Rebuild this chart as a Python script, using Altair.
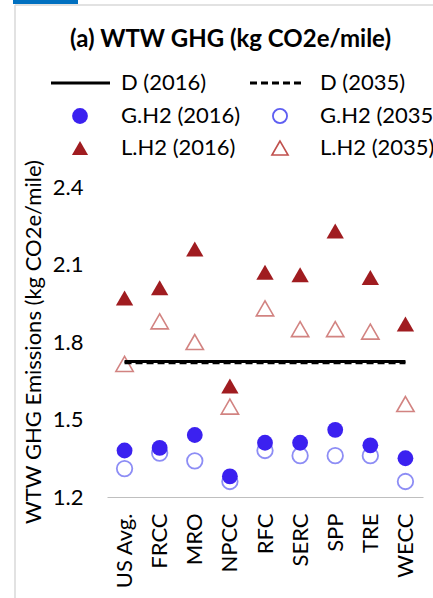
import altair as alt
import pandas as pd

regions = ["US Avg.", "FRCC", "MRO", "NPCC", "RFC", "SERC", "SPP", "TRE", "WECC"]
gh2_2016 = [1.38, 1.39, 1.44, 1.28, 1.41, 1.41, 1.46, 1.40, 1.35]
gh2_2035 = [1.31, 1.37, 1.34, 1.26, 1.38, 1.36, 1.36, 1.36, 1.26]
lh2_2016 = [1.97, 2.01, 2.16, 1.63, 2.07, 2.06, 2.23, 2.05, 1.87]
lh2_2035 = [1.715, 1.88, 1.80, 1.55, 1.93, 1.85, 1.85, 1.84, 1.56]
d_2016 = 1.725
d_2035 = 1.72
y_ticks = [1.2, 1.5, 1.8, 2.1, 2.4]

title_text = "(a) WTW GHG (kg CO2e/mile)"
y_title = "WTW GHG Emissions (kg CO2e/mile)"
legend_labels = ["D (2016)", "D (2035)", "G.H2 (2016)", "G.H2 (2035)", "L.H2 (2016)", "L.H2 (2035)"]

FONT = "Lato"
BLUE_F = "#3B21F0"
BLUE_O = "#5E5EF2"
RED_F = "#A01C20"
RED_O = "#C0504D"

df = pd.DataFrame({
    "region": regions,
    "g16": gh2_2016, "g35": gh2_2035,
    "l16": lh2_2016, "l35": lh2_2035,
})
dline = pd.DataFrame({
    "region": [regions[0], regions[-1]],
    "d16": [d_2016, d_2016],
    "d35": [d_2035, d_2035],
})

xenc = alt.X("region:N", sort=regions,
             scale=alt.Scale(paddingInner=0, paddingOuter=0),
             axis=alt.Axis(title=None, labelAngle=270, labelPadding=16, ticks=False,
                           domainColor="#BFBFBF", domainWidth=1, labelFont=FONT,
                           labelFontSize=22, labelColor="#000000"))
yscale = alt.Scale(domain=[1.2, 2.4], nice=False, zero=False)
yaxis = alt.Axis(title=None, values=y_ticks, format=".1f", domain=False, ticks=False,
                 grid=False, labelPadding=24, labelFont=FONT, labelFontSize=22,
                 labelColor="#000000")

base = alt.Chart(df)

g35 = base.mark_point(shape="circle", filled=False, size=240, strokeWidth=1.8, color=BLUE_O).encode(
    x=xenc, y=alt.Y("g35:Q", scale=yscale, axis=yaxis))
g16 = base.mark_point(shape="circle", filled=True, size=250, opacity=1, color=BLUE_F).encode(
    x=xenc, y=alt.Y("g16:Q", scale=yscale, axis=yaxis))
l35 = base.mark_point(shape="triangle-up", filled=False, size=300, strokeWidth=1.6, color=RED_O).encode(
    x=xenc, y=alt.Y("l35:Q", scale=yscale, axis=yaxis))
l16 = base.mark_point(shape="triangle-up", filled=True, size=300, opacity=1, color=RED_F).encode(
    x=xenc, y=alt.Y("l16:Q", scale=yscale, axis=yaxis))

dl16 = alt.Chart(dline).mark_line(color="#000000", strokeWidth=3).encode(
    x=xenc, y=alt.Y("d16:Q", scale=yscale, axis=yaxis))
dl35 = alt.Chart(dline).mark_line(color="#000000", strokeWidth=3, strokeDash=[7, 4]).encode(
    x=xenc, y=alt.Y("d35:Q", scale=yscale, axis=yaxis))

one = pd.DataFrame({"k": [0]})


def txt(label, x, y, size=22, weight="normal", align="left", angle=0):
    kw = dict(text=label, font=FONT, fontSize=size, fontWeight=weight, align=align,
              baseline="middle", color="#000000")
    if angle:
        kw["angle"] = angle
    return alt.Chart(one).mark_text(**kw).encode(x=alt.value(x), y=alt.value(y))


def legline(x1, x2, y, dash=None):
    kw = dict(color="#000000", strokeWidth=3)
    if dash:
        kw["strokeDash"] = dash
    return alt.Chart(one).mark_rule(**kw).encode(x=alt.value(x1), x2=alt.value(x2), y=alt.value(y))


def legpt(x, y, shape, filled, color, size, sw=2):
    return alt.Chart(one).mark_point(shape=shape, filled=filled, color=color, size=size,
                                     opacity=1, strokeWidth=sw).encode(
        x=alt.value(x), y=alt.value(y))


rows = [-104, -71, -39]
c1_sym, c1_lab = -27, 14
c2_sym, c2_lab = 173, 213

legend = [
    legline(-56, 3, rows[0]),
    legline(143, 198, rows[0], dash=[7, 4]),
    legpt(c1_sym, rows[1], "circle", True, BLUE_F, 250),
    legpt(c2_sym, rows[1], "circle", False, BLUE_O, 200, sw=1.8),
    legpt(c1_sym, rows[2], "triangle-up", True, RED_F, 260),
    legpt(c2_sym, rows[2], "triangle-up", False, RED_O, 260, sw=1.6),
    txt(legend_labels[0], c1_lab, rows[0]),
    txt(legend_labels[1], c2_lab, rows[0]),
    txt(legend_labels[2], c1_lab, rows[1]),
    txt(legend_labels[3], c2_lab, rows[1]),
    txt(legend_labels[4], c1_lab, rows[2]),
    txt(legend_labels[5], c2_lab, rows[2]),
]

title = txt(title_text, 123.5, -147, size=24, weight="bold", align="center")
ytitle = txt(y_title, -73, 155, size=22, align="center", angle=270)

# screenshot frame decorations
frame_left = alt.Chart(one).mark_rule(color="#D9D9D9", strokeWidth=1.5).encode(
    x=alt.value(-92), y=alt.value(-182), y2=alt.value(420))
frame_top = alt.Chart(one).mark_rule(color="#D9D9D9", strokeWidth=1.5).encode(
    x=alt.value(-92), x2=alt.value(340), y=alt.value(-182))
tab = alt.Chart(one).mark_rect(color="#0070C0").encode(
    x=alt.value(-94), x2=alt.value(-29), y=alt.value(-190), y2=alt.value(-183))

chart = alt.layer(
    frame_left, frame_top, tab,
    g35, g16, l35, l16, dl16, dl35,
    *legend, title, ytitle,
).properties(
    width=316, height=310,
    padding={"left": 107, "top": 187, "right": 10, "bottom": 101},
    autosize=alt.AutoSizeParams(type="none"),
    background="#FFFFFF",
).configure_view(stroke=None)

chart.save("out.html", embed_options={"renderer": "svg", "actions": False})
